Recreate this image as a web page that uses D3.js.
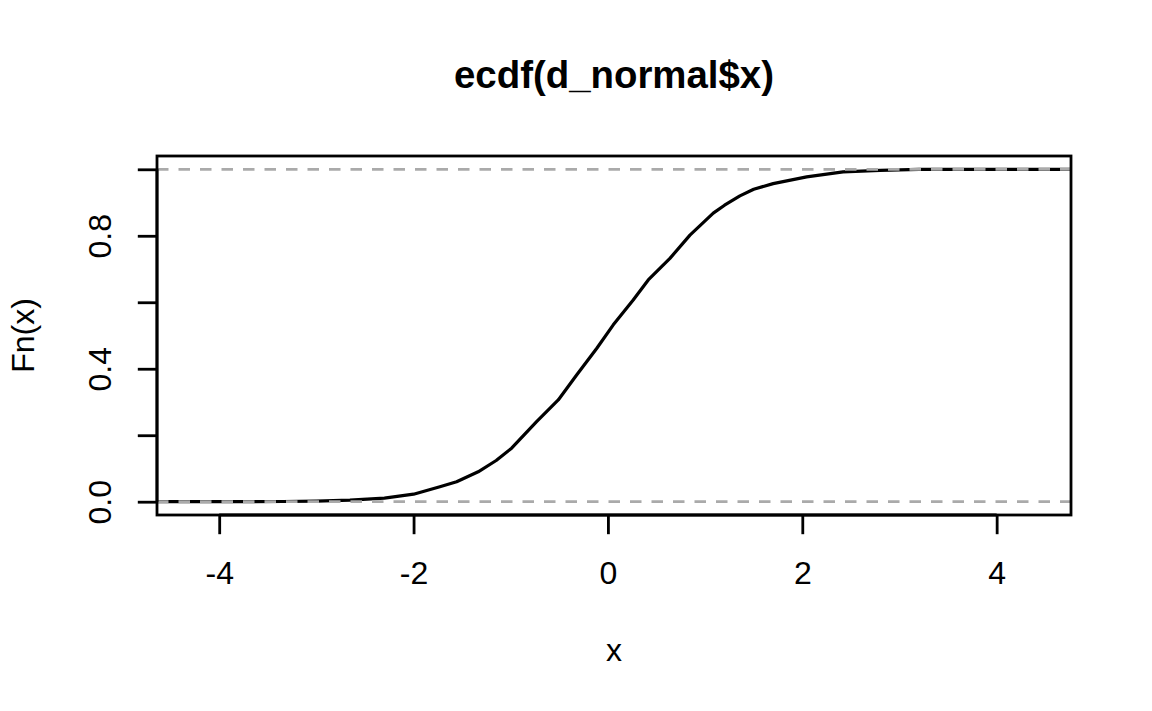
<!DOCTYPE html>
<html>
<head>
<meta charset="utf-8">
<script src="https://cdn.jsdelivr.net/npm/d3@7"></script>
<style>
  body { margin: 0; background: #fff; }
  svg { display: block; font-family: "Liberation Sans", Arial, Helvetica, sans-serif; }
</style>
</head>
<body>
<div id="chart"></div>
<script>
// values
var ecdfX = [-3.68, -3.34, -3.0, -2.655, -2.3, -2.0, -1.729, -1.557, -1.335, -1.15, -0.991,
             -0.734, -0.511, -0.322, -0.116, 0.055, 0.26, 0.415, 0.638, 0.844, 1.084,
             1.2, 1.358, 1.5, 1.7, 2.045, 2.42, 2.8, 3.2, 3.83];
var ecdfF = [0, 0.0006, 0.0015, 0.0045, 0.011, 0.0226, 0.045, 0.06, 0.09, 0.124, 0.161,
             0.241, 0.306, 0.381, 0.461, 0.532, 0.607, 0.667, 0.732, 0.802, 0.868,
             0.892, 0.92, 0.94, 0.957, 0.977, 0.992, 0.997, 0.9995, 1];
var xTicks = [-4, -2, 0, 2, 4];
var yTicks = [0, 0.2, 0.4, 0.6, 0.8, 1.0];
var yTickLabels = ["0.0", "", "0.4", "", "0.8", ""];
var hLines = [0, 1];

var width = 1152, height = 711;
var lineH = 38.4, fontPx = 32;
var margin = {top: 156, right: 81, bottom: 196, left: 157};

var svg = d3.select("#chart").append("svg")
  .attr("width", width)
  .attr("height", height);

var x = d3.scaleLinear().domain([-4.64, 4.765])
  .range([margin.left, width - margin.right]);
var y = d3.scaleLinear().domain([-0.04, 1.04])
  .range([height - margin.bottom, margin.top]);

svg.append("clipPath").attr("id", "plotclip")
  .append("rect")
  .attr("x", margin.left).attr("y", margin.top)
  .attr("width", width - margin.left - margin.right)
  .attr("height", height - margin.top - margin.bottom);

var plot = svg.append("g").attr("clip-path", "url(#plotclip)");

// step function extended to the plot edges
var pts = [[x.domain()[0], 0]];
ecdfX.forEach(function(v, i) { pts.push([v, ecdfF[i]]); });
pts.push([x.domain()[1], 1]);

plot.append("path")
  .datum(pts)
  .attr("fill", "none")
  .attr("stroke", "#000")
  .attr("stroke-width", 3.2)
  .attr("stroke-linejoin", "round")
  .attr("d", d3.line().x(function(d) { return x(d[0]); }).y(function(d) { return y(d[1]); }));

// dashed reference lines at 0 and 1
plot.selectAll("line.ref")
  .data(hLines).enter().append("line")
  .attr("class", "ref")
  .attr("x1", x.range()[0]).attr("x2", x.range()[1])
  .attr("y1", function(d) { return y(d); })
  .attr("y2", function(d) { return y(d); })
  .attr("stroke", "#aaaaaa")
  .attr("stroke-width", 2.8)
  .attr("stroke-dasharray", "11.5,10");

// box
svg.append("rect")
  .attr("x", margin.left).attr("y", margin.top)
  .attr("width", width - margin.left - margin.right)
  .attr("height", height - margin.top - margin.bottom)
  .attr("fill", "none")
  .attr("stroke", "#000")
  .attr("stroke-width", 2.8);

// x axis
var xAxis = svg.append("g")
  .attr("transform", "translate(0," + (height - margin.bottom) + ")")
  .call(d3.axisBottom(x).tickValues(xTicks).tickSize(19.2).tickPadding(0)
    .tickFormat(function(d) { return d < 0 ? "-" + Math.abs(d) : d; }));
xAxis.select(".domain").attr("stroke", "#000").attr("stroke-width", 2.8)
  .attr("d", "M" + x(xTicks[0]) + ",0H" + x(xTicks[xTicks.length - 1]));
xAxis.selectAll(".tick line").attr("stroke", "#000").attr("stroke-width", 2.8);
xAxis.selectAll(".tick text")
  .attr("y", 1.8 * lineH).attr("dy", 0)
  .attr("fill", "#000")
  .style("font-size", fontPx + "px")
  .style("font-family", "'Liberation Sans', Arial, sans-serif");

// y axis
var yAxis = svg.append("g")
  .attr("transform", "translate(" + margin.left + ",0)")
  .call(d3.axisLeft(y).tickValues(yTicks).tickSize(19.2).tickPadding(0)
    .tickFormat(function(d, i) { return yTickLabels[i]; }));
yAxis.select(".domain").attr("stroke", "#000").attr("stroke-width", 2.8)
  .attr("d", "M0," + y(yTicks[0]) + "V" + y(yTicks[yTicks.length - 1]));
yAxis.selectAll(".tick line").attr("stroke", "#000").attr("stroke-width", 2.8);
yAxis.selectAll(".tick text")
  .attr("x", 0).attr("dy", 0)
  .attr("transform", "translate(" + (-1.2 * lineH) + ",0) rotate(-90)")
  .attr("text-anchor", "middle")
  .attr("fill", "#000")
  .style("font-size", fontPx + "px")
  .style("font-family", "'Liberation Sans', Arial, sans-serif");

// labels
svg.append("text")
  .attr("x", (x.range()[0] + x.range()[1]) / 2)
  .attr("y", height - margin.bottom + 3.8 * lineH)
  .attr("text-anchor", "middle")
  .style("font-size", fontPx + "px")
  .text("x");

svg.append("text")
  .attr("transform", "translate(" + (margin.left - 3.2 * lineH) + "," + ((y.range()[0] + y.range()[1]) / 2) + ") rotate(-90)")
  .attr("text-anchor", "middle")
  .style("font-size", fontPx + "px")
  .text("Fn(x)");

svg.append("text")
  .attr("x", (x.range()[0] + x.range()[1]) / 2)
  .attr("y", 88)
  .attr("text-anchor", "middle")
  .style("font-size", (fontPx * 1.2) + "px")
  .style("font-weight", "bold")
  .text("ecdf(d_normal$x)");
</script>
</body>
</html>
